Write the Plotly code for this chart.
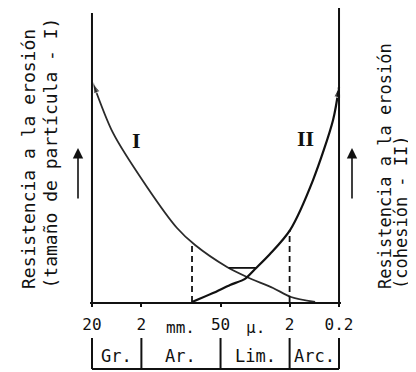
import numpy as np
import plotly.graph_objects as go

# ---------------- data ----------------
# particle size (mm) on a reversed log axis; resistance to erosion in arbitrary units (0-100)
tick_sizes_mm = [20, 2, 0.05, 0.002, 0.0002]
tick_labels = ["20", "2", "50", "2", "0.2"]
unit_labels = ["mm.", "μ."]
class_labels = ["Gr.", "Ar.", "Lim.", "Arc."]
curve_names = ["I", "II"]

# curve I : resistance due to particle size
curve1_size_mm = [19.1, 7.5, 1.54, 0.38, 0.164, 0.037, 0.0146, 0.00433, 0.00187, 0.00061]
curve1_resist = [75.8, 58.5, 39.8, 25.6, 19.7, 12.1, 8.65, 4.84, 1.73, 0.0]

# curve II : resistance due to cohesion
curve2_size_mm = [0.189, 0.0711, 0.0321, 0.0160, 0.0100, 0.00499, 0.00196, 0.000672, 0.000264, 0.0002]
curve2_resist = [0.0, 3.1, 5.9, 8.0, 11.4, 16.6, 24.9, 42.2, 63.0, 74.4]

cap_level = 11.8

# ---------------- styling ----------------
INK = "#111111"
GREY = "#2a2a2a"
MONO = "DejaVu Sans Mono"
SERIF = "Liberation Serif"
OFF = 8                      # the page body margin in the browser
W, H = 416 - OFF, 372 - OFF
ML, MR, MT, MB = 90 - OFF, 75, 13 - OFF, 70
PH = H - MT - MB
PW = W - ML - MR
PAD = 0.04

lx1 = np.log10(curve1_size_mm)
lx2 = np.log10(curve2_size_mm)
ltick = np.log10(tick_sizes_mm)


def py(ref_y):
    """reference-picture row -> paper y"""
    return (H - MB - (ref_y - OFF)) / PH


def px(ref_x):
    """reference-picture column -> paper x"""
    return ((ref_x - OFF) - ML) / PW


fig = go.Figure()

# curve I, drawn from the fine end toward the coarse end so the arrowhead sits at the left axis
n1 = len(lx1)
fig.add_trace(go.Scatter(
    x=lx1[::-1], y=curve1_resist[::-1], mode="lines+markers",
    line=dict(color=GREY, width=1.8, shape="spline", smoothing=0.8),
    marker=dict(symbol="arrow", size=[0] * (n1 - 1) + [11], angleref="previous", color=GREY),
    hoverinfo="skip", showlegend=False))

# curve II, arrowhead at the right axis
n2 = len(lx2)
fig.add_trace(go.Scatter(
    x=lx2, y=curve2_resist, mode="lines+markers",
    line=dict(color=INK, width=2.2, shape="spline", smoothing=0.8),
    marker=dict(symbol="arrow", size=[0] * (n2 - 1) + [11], angleref="previous", color=INK),
    hoverinfo="skip", showlegend=False))


def on_curve(lx, xs, ys):
    return float(np.interp(-lx, -np.asarray(xs), ys))


# dashed verticals
left_x = lx2[0]
left_top = on_curve(left_x, lx1, curve1_resist)
right_x = ltick[3]
right_top = on_curve(right_x, lx2, curve2_resist)
for xv, top in [(left_x, left_top), (right_x, right_top)]:
    fig.add_trace(go.Scatter(x=[xv, xv], y=[0, top], mode="lines",
                             line=dict(color=INK, width=1.8, dash="6px,4px"),
                             hoverinfo="skip", showlegend=False))

# small horizontal cap between the two curves above their crossing
cap_x1 = float(np.interp(cap_level, curve1_resist[::-1], lx1[::-1]))
cap_x2 = float(np.interp(cap_level, curve2_resist, lx2))
fig.add_trace(go.Scatter(x=[cap_x1, cap_x2], y=[cap_level, cap_level], mode="lines",
                         line=dict(color=INK, width=1.8), hoverinfo="skip", showlegend=False))

shapes = []
# left and right vertical axes
shapes.append(dict(type="line", xref="x", yref="paper", x0=ltick[0], x1=ltick[0], y0=0, y1=1,
                   line=dict(color=INK, width=2)))
shapes.append(dict(type="line", xref="x", yref="paper", x0=ltick[-1], x1=ltick[-1], y0=0, y1=py(0),
                   line=dict(color=INK, width=2)))
# size class boxes under the axis
for t in ltick:
    shapes.append(dict(type="line", xref="x", yref="paper", x0=t, x1=t, y0=py(338), y1=py(369),
                       line=dict(color=INK, width=2)))
shapes.append(dict(type="line", xref="x", yref="paper", x0=ltick[0], x1=ltick[-1], y0=py(369), y1=py(369),
                   line=dict(color=INK, width=2)))

annotations = []
for i, lab in enumerate(class_labels):
    annotations.append(dict(x=(ltick[i] + ltick[i + 1]) / 2, y=py(356), xref="x", yref="paper",
                            text=lab, showarrow=False, xanchor="center", yanchor="middle",
                            font=dict(family=MONO, size=17, color=INK)))
for i, lab in enumerate(unit_labels):
    annotations.append(dict(x=(ltick[i + 1] + ltick[i + 2]) / 2, y=py(327), xref="x", yref="paper",
                            text=lab, showarrow=False, xanchor="center", yanchor="middle",
                            font=dict(family=MONO, size=16, color=INK)))

# curve labels
annotations.append(dict(x=0.41, y=56, xref="x", yref="y", text=curve_names[0], showarrow=False,
                        font=dict(family=SERIF, size=22, color=INK, weight="bold")))
annotations.append(dict(x=-3.03, y=56.5, xref="x", yref="y", text=curve_names[1], showarrow=False,
                        font=dict(family=SERIF, size=22, color=INK, weight="bold")))

# axis titles (rotated, reading bottom to top)
titles = [
    ("Resistencia a la erosión", 28, 18),
    ("(tamaño de partícula - I)", 50, 18),
    ("Resistencia a la erosión", 385, 17),
    ("(cohesión - II)", 401, 17),
]
for txt, xc, fs in titles:
    annotations.append(dict(x=px(xc), y=py(291), xref="paper", yref="paper", text=txt,
                            textangle=-90, showarrow=False, xanchor="center", yanchor="bottom",
                            font=dict(family=MONO, size=fs, color=INK)))

# upward arrows beside the axes
for xc in (78, 352):
    annotations.append(dict(x=px(xc), y=py(148), xref="paper", yref="paper", text="",
                            showarrow=True, ax=0, ay=52, axref="pixel", ayref="pixel",
                            arrowhead=2, arrowsize=1.3, arrowwidth=1.6, arrowcolor=INK))

fig.update_layout(
    width=W, height=H,
    margin=dict(l=ML, r=MR, t=MT, b=MB, pad=0),
    paper_bgcolor="white", plot_bgcolor="white",
    showlegend=False,
    shapes=shapes,
    annotations=annotations,
    xaxis=dict(range=[ltick[0] + PAD, ltick[-1] - PAD], tickmode="array", tickvals=ltick,
               ticktext=tick_labels, showline=True, linecolor=INK, linewidth=2,
               ticks="outside", ticklen=3, tickwidth=1.5, tickcolor=INK,
               tickfont=dict(family=MONO, size=16, color=INK), ticklabelstandoff=4,
               showgrid=False, zeroline=False, fixedrange=True),
    yaxis=dict(range=[0, 100], visible=False, showgrid=False, zeroline=False, fixedrange=True),
)

fig.write_html("out.html")
